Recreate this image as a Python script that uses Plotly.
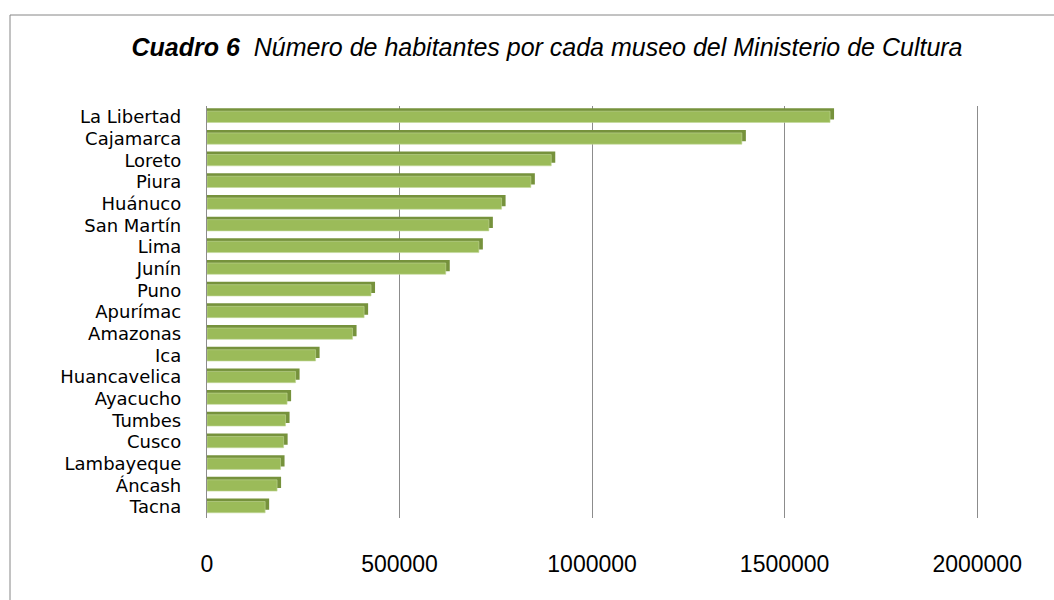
import plotly.graph_objects as go

categories = ["La Libertad", "Cajamarca", "Loreto", "Piura", "Huánuco", "San Martín",
              "Lima", "Junín", "Puno", "Apurímac", "Amazonas", "Ica", "Huancavelica",
              "Ayacucho", "Tumbes", "Cusco", "Lambayeque", "Áncash", "Tacna"]
habitantes = [1618000, 1389000, 894000, 841000, 765000, 732000,
              706000, 620000, 426000, 408000, 378000, 282000, 230000,
              208000, 204000, 199000, 191000, 182000, 151000]
tick_vals = [0, 500000, 1000000, 1500000, 2000000]
tick_text = ["0", "500000", "1000000", "1500000", "2000000"]

FONT = "Liberation Sans"
front_color = "#9BBB59"
dark_color = "#76923C"
grid_color = "#8C8C8C"

W, H = 1054, 600
x_max = 2010000
ml, mr, mt, mb = 207, 73, 106, 82
plot_w = W - ml - mr
depth_px = 4
depth = depth_px / plot_w * x_max
bar_w = 0.52
lift = 3 / ((H - mt - mb) / len(categories))

fig = go.Figure()
# dark top / side faces (3D look)
fig.add_trace(go.Bar(
    y=categories, x=[v + depth for v in habitantes], orientation="h",
    marker=dict(color=dark_color, line=dict(width=0)),
    width=bar_w, offset=-bar_w / 2 - lift, hoverinfo="skip", showlegend=False))
# front face
fig.add_trace(go.Bar(
    y=categories, x=habitantes, orientation="h",
    marker=dict(color=front_color, line=dict(width=0.6, color="#C3D69B")),
    width=bar_w, offset=-bar_w / 2, showlegend=False,
    hovertemplate="%{y}: %{x}<extra></extra>"))

fig.update_layout(
    width=W, height=H,
    margin=dict(l=ml, r=mr, t=mt, b=mb, autoexpand=False),
    barmode="overlay",
    paper_bgcolor="white", plot_bgcolor="white",
    font=dict(family=FONT, color="#000000", size=22),
    title=dict(
        text="<b><i>Cuadro 6</i></b>  <i>Número de habitantes por cada museo del Ministerio de Cultura</i>",
        x=0.519, xanchor="center", y=0.922, yanchor="middle",
        font=dict(family=FONT, size=25, color="#000000")),
    xaxis=dict(range=[0, x_max], tickvals=tick_vals, ticktext=tick_text,
               showgrid=True, gridcolor=grid_color, gridwidth=1.3,
               zeroline=False, showline=False, ticks="", automargin=False,
               ticklabelstandoff=30, tickfont=dict(size=23, family=FONT)),
    yaxis=dict(categoryorder="array", categoryarray=categories, autorange="reversed",
               tickmode="array", tickvals=categories, automargin=False,
               showgrid=False, showline=True, linecolor=grid_color, linewidth=1.3,
               ticks="", ticklabelstandoff=21,
               tickfont=dict(size=18, family="DejaVu Sans")),
    shapes=[dict(type="rect", xref="paper", yref="paper",
                 x0=(10 - ml) / plot_w, x1=(W + 10 - ml) / plot_w,
                 y0=-(mb + 20) / (H - mt - mb), y1=1 + (mt - 15) / (H - mt - mb),
                 line=dict(color="#868686", width=1), fillcolor="rgba(0,0,0,0)",
                 layer="below")],
)

fig.write_html("out.html", config={"displayModeBar": False},
               post_script="document.body.style.margin='0';document.body.style.padding='0';")
